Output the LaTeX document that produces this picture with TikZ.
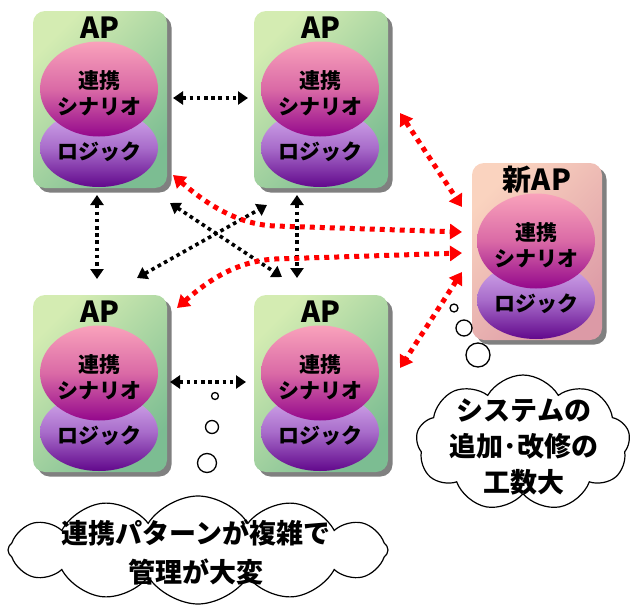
\documentclass[tikz,border=0pt]{standalone}
\usepackage{fontspec}
\setmainfont{Noto Sans CJK JP}
\usetikzlibrary{arrows.meta,shapes.geometric,shapes.symbols,shadows}

\definecolor{boxGreenA}{HTML}{D4ECB2}
\definecolor{boxGreenB}{HTML}{7CBD92}
\definecolor{boxPeachA}{HTML}{FAD3BF}
\definecolor{boxPeachB}{HTML}{DC9AA6}
\definecolor{scenTop}{HTML}{F9A2BB}
\definecolor{scenMid}{HTML}{DA6AA6}
\definecolor{scenBot}{HTML}{94088C}
\definecolor{logicTop}{HTML}{D6AEEE}
\definecolor{logicMid}{HTML}{A86CCA}
\definecolor{logicBot}{HTML}{62088C}
\definecolor{linkRed}{HTML}{FF0000}

\tikzset{
  apbox/.style={rectangle, rounded corners=12pt, minimum width=134pt,
    minimum height=177pt, inner sep=0pt,
    top color=boxGreenA, bottom color=boxGreenB, shading angle=45,
    drop shadow={shadow xshift=4.5pt, shadow yshift=-4.5pt, fill=black!50, opacity=1}},
  newbox/.style={apbox, minimum width=130pt,
    top color=boxPeachA, bottom color=boxPeachB, shading angle=45},
  scencell/.style={ellipse, minimum width=118pt, minimum height=95pt, inner sep=0pt,
    top color=scenTop, bottom color=scenBot, middle color=scenMid},
  logiccell/.style={ellipse, minimum width=118pt, minimum height=78pt, inner sep=0pt,
    top color=logicTop, bottom color=logicBot, middle color=logicMid},
  titletext/.style={inner sep=0pt, font=\fontsize{29}{30}\selectfont\bfseries},
  celltext/.style={inner sep=0pt, align=center, font=\fontsize{21}{26}\selectfont\bfseries},
  cloudtext/.style={inner sep=0pt, align=center, font=\fontsize{27}{#1}\selectfont\bfseries},
  blacklink/.style={line width=3.6pt, dash pattern=on 3.6pt off 3.6pt,
    arrows={Triangle[length=10pt,width=13pt]-Triangle[length=10pt,width=13pt]}},
  redlink/.style={draw=linkRed, line width=5pt, dash pattern=on 5pt off 5pt,
    arrows={Triangle[length=12pt,width=15pt,fill=linkRed]-Triangle[length=12pt,width=15pt,fill=linkRed]}},
  bubble/.style={circle, draw=black, fill=white, line width=1.3pt, inner sep=0pt},
  thought/.style={cloud, draw=black, fill=white, line width=1.2pt, inner sep=0pt,
    cloud ignores aspect},
}

% one application: box, logic layer, scenario layer and their labels
\newcommand{\apunit}[5]{%
  \node[#5] (#1) at ({#2},{#3+88.5}) {};
  \node[logiccell] (#1-logic) at ({#2-1},{#3+137}) {};
  \node[scencell] (#1-scen) at ({#2-1},{#3+78}) {};
  \node[titletext] (#1-title) at ({#2},{#3+17}) {#4};
  \node[celltext] (#1-scentext) at ({#2-1},{#3+82}) {連携\\シナリオ};
  \node[celltext] (#1-logictext) at ({#2-1},{#3+141}) {ロジック};
}

\begin{document}
\begin{tikzpicture}[x=1pt, y=-1pt]
\useasboundingbox (0,0) rectangle (635,605);

\apunit{tl}{100}{11}{AP}{apbox}
\apunit{tr}{321}{11}{AP}{apbox}
\apunit{bl}{100}{295}{AP}{apbox}
\apunit{br}{321}{295}{AP}{apbox}
\apunit{nw}{537}{163}{新AP}{newbox}

% end points of the links
\coordinate (h1a) at (173,98);  \coordinate (h1b) at (248,98);
\coordinate (h2a) at (170,382); \coordinate (h2b) at (246,382);
\coordinate (v1a) at (97,195);  \coordinate (v1b) at (97,279);
\coordinate (v2a) at (297,195); \coordinate (v2b) at (297,278);
\coordinate (d1a) at (170,203); \coordinate (d1b) at (282,277);
\coordinate (d2a) at (137,278); \coordinate (d2b) at (267,205);
\coordinate (r1a) at (173,175); \coordinate (r1b) at (462,232);
\coordinate (r2a) at (177,308); \coordinate (r2b) at (462,253);
\coordinate (r3a) at (400,113); \coordinate (r3b) at (462,207);
\coordinate (r4a) at (462,272); \coordinate (r4b) at (400,368);

% existing point-to-point links
\draw[blacklink] (h1a) -- (h1b);
\draw[blacklink] (h2a) -- (h2b);
\draw[blacklink] (v1a) -- (v1b);
\draw[blacklink] (v2a) -- (v2b);
\draw[blacklink] (d1a) -- (d1b);
\draw[blacklink] (d2a) -- (d2b);

% links needed for the new application
\draw[redlink] (r1a) .. controls (210,207) and (240,224.5) .. (275,226) -- (r1b);
\draw[redlink] (r2a) .. controls (212,277) and (240,261) .. (275,259) -- (r2b);
\draw[redlink] (r3a) -- (r3b);
\draw[redlink] (r4a) -- (r4b);

% thought bubbles
\node[bubble, minimum size=7pt]  (b1) at (215,396) {};
\node[bubble, minimum size=13pt] (b2) at (212,427) {};
\node[bubble, minimum size=19pt] (b3) at (207,463) {};
\node[bubble, minimum size=8pt]  (c1) at (454,308) {};
\node[bubble, minimum size=16pt] (c2) at (464,328) {};
\node[bubble, minimum size=24pt] (c3) at (478,355) {};

\node[thought, cloud puffs=9, cloud puff arc=120, minimum width=214pt, minimum height=136pt]
  (costcloud) at (523,443) {};
\node[cloudtext=36] (costtext) at (524,447) {システムの\\追加･改修の\\工数大};

\node[thought, cloud puffs=12, cloud puff arc=115, minimum width=380pt, minimum height=108pt]
  (mgmtcloud) at (198,550) {};
\node[cloudtext=39] (mgmttext) at (196,552) {連携パターンが複雑で\\管理が大変};
\end{tikzpicture}
\end{document}
